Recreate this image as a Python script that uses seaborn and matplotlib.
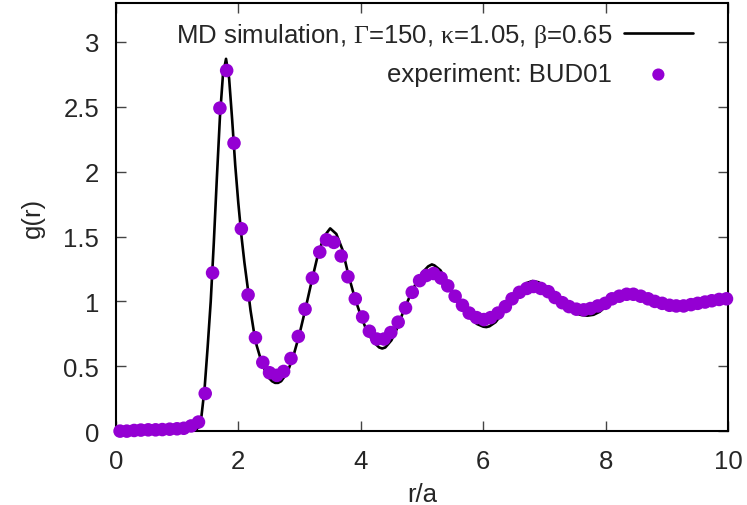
import numpy as np
import pandas as pd
import seaborn as sns
import matplotlib.pyplot as plt

# --- MD simulation curve ---
md_r = [0.0, 0.5, 1.0, 1.2, 1.3, 1.35, 1.4, 1.45, 1.5, 1.55, 1.6, 1.65, 1.7, 1.75,
        1.8, 1.85, 1.9, 1.95, 2.0, 2.05, 2.1, 2.15, 2.2, 2.25, 2.3, 2.35, 2.4, 2.45,
        2.5, 2.55, 2.6, 2.65, 2.7, 2.8, 2.9, 3.0, 3.1, 3.2, 3.3, 3.4, 3.5, 3.6, 3.7,
        3.8, 3.9, 4.0, 4.1, 4.2, 4.3, 4.35, 4.4, 4.5, 4.6, 4.7, 4.8, 4.9, 5.0, 5.1,
        5.16, 5.2, 5.3, 5.4, 5.5, 5.6, 5.7, 5.8, 5.9, 6.0, 6.05, 6.1, 6.2, 6.3, 6.4,
        6.5, 6.6, 6.7, 6.8, 6.9, 7.0, 7.1, 7.2, 7.3, 7.4, 7.5, 7.6, 7.7, 7.8, 7.9,
        8.0, 8.1, 8.2, 8.3, 8.4, 8.5, 8.6, 8.7, 8.8, 8.9, 9.0, 9.1, 9.2, 9.3, 9.4,
        9.5, 9.6, 9.7, 9.8, 9.9, 10.0]
md_g = [0.0, 0.0, 0.0, 0.0, 0.005, 0.03, 0.12, 0.33, 0.65, 1.0, 1.45, 1.95, 2.42, 2.75,
        2.87, 2.72, 2.40, 2.05, 1.76, 1.51, 1.30, 1.12, 0.93, 0.78, 0.66, 0.58, 0.51, 0.45,
        0.41, 0.385, 0.372, 0.372, 0.385, 0.45, 0.58, 0.75, 0.95, 1.16, 1.36, 1.50, 1.563, 1.52, 1.40,
        1.20, 1.03, 0.89, 0.77, 0.69, 0.645, 0.637, 0.645, 0.70, 0.80, 0.93, 1.04, 1.14, 1.22, 1.27,
        1.285, 1.278, 1.24, 1.16, 1.06, 0.98, 0.92, 0.865, 0.825, 0.805, 0.802, 0.808, 0.84, 0.90, 0.97,
        1.04, 1.10, 1.14, 1.157, 1.148, 1.12, 1.08, 1.03, 0.98, 0.94, 0.91, 0.895, 0.89, 0.897, 0.92,
        0.96, 1.00, 1.035, 1.062, 1.077, 1.08, 1.062, 1.035, 1.008, 0.985, 0.97, 0.96, 0.955, 0.955, 0.96,
        0.97, 0.98, 0.99, 1.00, 1.01, 1.018]

# --- experiment: BUD01 ---
exp_r = [0.07, 0.18, 0.30, 0.41, 0.53, 0.65, 0.76, 0.88, 1.00, 1.11, 1.23, 1.35,
         1.46, 1.58, 1.70, 1.81, 1.93, 2.05, 2.16, 2.28, 2.40, 2.51, 2.63, 2.74,
         2.86, 2.98, 3.09, 3.21, 3.33, 3.44, 3.56, 3.68, 3.79, 3.91, 4.03, 4.14,
         4.26, 4.38, 4.49, 4.61, 4.73, 4.84, 4.96, 5.07, 5.19, 5.31, 5.42, 5.54,
         5.66, 5.77, 5.89, 6.01, 6.12, 6.24, 6.36, 6.47, 6.59, 6.71, 6.82, 6.94,
         7.06, 7.17, 7.29, 7.40, 7.52, 7.64, 7.75, 7.87, 7.99, 8.10, 8.22, 8.34,
         8.45, 8.57, 8.69, 8.80, 8.92, 9.04, 9.15, 9.27, 9.39, 9.50, 9.62, 9.73,
         9.85, 9.97]
exp_g = [0.0, 0.0, 0.005, 0.008, 0.01, 0.01, 0.012, 0.015, 0.018, 0.022, 0.04, 0.07,
         0.29, 1.22, 2.49, 2.78, 2.22, 1.56, 1.05, 0.72, 0.53, 0.45, 0.43, 0.46,
         0.56, 0.73, 0.94, 1.18, 1.38, 1.475, 1.455, 1.35, 1.19, 1.02, 0.88, 0.77,
         0.71, 0.71, 0.76, 0.84, 0.95, 1.07, 1.16, 1.20, 1.215, 1.18, 1.12, 1.04,
         0.97, 0.91, 0.875, 0.86, 0.875, 0.91, 0.96, 1.02, 1.07, 1.10, 1.115, 1.10,
         1.075, 1.03, 0.99, 0.96, 0.94, 0.935, 0.945, 0.965, 0.985, 1.02, 1.04, 1.055,
         1.055, 1.04, 1.02, 1.00, 0.985, 0.97, 0.965, 0.965, 0.975, 0.985, 0.995, 1.005,
         1.015, 1.02]

md_label = r"MD simulation, $\Gamma$=150, $\kappa$=1.05, $\beta$=0.65"
exp_label = "experiment: BUD01"

sns.set_style("ticks")
plt.rcParams['font.family'] = ['Liberation Sans', 'DejaVu Sans']
plt.rcParams['mathtext.fontset'] = 'custom'
plt.rcParams['mathtext.rm'] = 'Liberation Serif'
plt.rcParams['mathtext.it'] = 'Liberation Serif'
plt.rcParams['font.size'] = 18.5

md = pd.DataFrame({"r": md_r, "g": md_g})
exp = pd.DataFrame({"r": exp_r, "g": exp_g})

fig = plt.figure(figsize=(7.47, 5.06), dpi=100)
ax = fig.add_axes([0.155, 0.146, 0.82, 0.846])

sns.lineplot(data=md, x="r", y="g", ax=ax, color="black", linewidth=1.9,
             label=md_label, zorder=2)
sns.scatterplot(data=exp, x="r", y="g", ax=ax, color="#9400D3", s=95,
                edgecolor="none", label=exp_label, zorder=3, clip_on=False)

ax.set_xlim(0, 10)
ax.set_ylim(0, 3.3)
ax.set_xticks([0, 2, 4, 6, 8, 10])
ax.set_yticks([0, 0.5, 1, 1.5, 2, 2.5, 3])
ax.set_yticklabels(["0", "0.5", "1", "1.5", "2", "2.5", "3"])
ax.set_xlabel("r/a", fontsize=18.5, labelpad=6)
ax.set_ylabel("g(r)", fontsize=18.5, labelpad=13)

ax.tick_params(direction="in", length=7, width=1, color="#444444",
               top=True, right=True, labelsize=18.5)
ax.tick_params(axis="x", pad=13)
ax.tick_params(axis="y", pad=12)
for sp in ax.spines.values():
    sp.set_visible(True)
    sp.set_linewidth(1.5)
    sp.set_color("black")

ax.legend(loc="upper right", bbox_to_anchor=(0.955, 0.975), frameon=False,
          markerfirst=False, fontsize=18.5,
          handlelength=2.7, handletextpad=0.45, labelspacing=0.5,
          borderaxespad=0.0, borderpad=0.3, markerscale=0.9)

fig.savefig("out.png", dpi=100)
